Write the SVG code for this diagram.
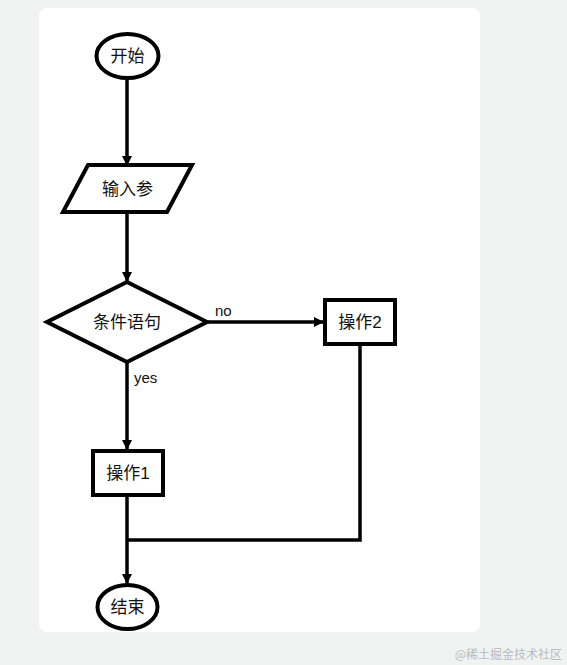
<svg xmlns="http://www.w3.org/2000/svg" width="567" height="665" viewBox="0 0 567 665">
<style>
.shape{fill:#fff;stroke:#000;stroke-width:4}
.conn{fill:none;stroke:#000;stroke-width:3.5}
.t{font-family:"Liberation Sans","Noto Sans CJK SC",sans-serif;font-size:17px;fill:#111;text-anchor:middle;dominant-baseline:central}
.lbl{font-family:"Liberation Sans","Noto Sans CJK SC",sans-serif;font-size:15px;fill:#111}
</style>
<defs>
<marker id="arr" markerWidth="10" markerHeight="10" refX="9" refY="5" orient="auto" markerUnits="userSpaceOnUse" viewBox="0 0 10 10">
<path d="M0,0 L10,5 L0,10 z" fill="#000"/>
</marker>
</defs>
<rect x="0" y="0" width="567" height="665" fill="#f1f2f2"/>
<rect x="39" y="8" width="441" height="624" rx="8" fill="#fff"/>
<g id="connectors">
<line class="conn" x1="127" y1="80" x2="127" y2="165" marker-end="url(#arr)"/>
<line class="conn" x1="127" y1="212" x2="127" y2="281" marker-end="url(#arr)"/>
<line class="conn" x1="208" y1="322" x2="323" y2="322" marker-end="url(#arr)"/>
<line class="conn" x1="127" y1="362" x2="127" y2="449" marker-end="url(#arr)"/>
<line class="conn" x1="127" y1="496" x2="127" y2="583" marker-end="url(#arr)"/>
<polyline class="conn" points="360,345 360,540 127,540"/>
<text class="lbl" x="215" y="316">no</text>
<text class="lbl" x="134" y="383">yes</text>
</g>
<g id="start">
<ellipse class="shape" cx="127.5" cy="56" rx="31" ry="22"/>
<text class="t" x="127.5" y="56">开始</text>
</g>
<g id="input">
<polygon class="shape" points="88,165 192,165 167,212 63,212"/>
<text class="t" x="127.5" y="189">输入参</text>
</g>
<g id="cond">
<polygon class="shape" points="127,282 207,322 127,362 47,322"/>
<text class="t" x="127" y="322">条件语句</text>
</g>
<g id="op2">
<rect class="shape" x="325" y="300" width="70" height="44"/>
<text class="t" x="360" y="322">操作2</text>
</g>
<g id="op1">
<rect class="shape" x="93" y="451" width="70" height="44"/>
<text class="t" x="128" y="473">操作1</text>
</g>
<g id="end">
<ellipse class="shape" cx="127.5" cy="607" rx="30" ry="22"/>
<text class="t" x="127.5" y="607">结束</text>
</g>
<text x="562" y="659" font-family="'Noto Sans CJK SC',sans-serif" font-size="12" fill="#b8bcc0" text-anchor="end">@稀土掘金技术社区</text>
</svg>
